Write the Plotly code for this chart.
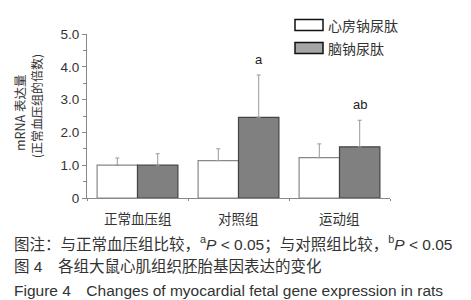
import plotly.graph_objects as go

categories = ["正常血压组", "对照组", "运动组"]
anp_values = [1.00, 1.14, 1.23]
anp_err = [0.22, 0.36, 0.42]
bnp_values = [1.00, 2.46, 1.56]
bnp_err = [0.35, 1.29, 0.81]
sig_labels = ["", "a", "ab"]
series_names = ["心房钠尿肽", "脑钠尿肽"]
y_ticks = [0, 1, 2, 3, 4, 5]
y_tick_text = ["0", "1.0", "2.0", "3.0", "4.0", "5.0"]

xpos = list(range(len(categories)))
font_cn = "Noto Sans CJK SC"
font_en = "Liberation Sans, Arial"

fig = go.Figure()
fig.add_trace(go.Bar(
    x=xpos, y=anp_values, name=series_names[0],
    marker=dict(color="white", line=dict(color="#888888", width=1.2)),
    error_y=dict(type="data", array=anp_err, arrayminus=[0]*3, symmetric=False,
                 color="#999999", thickness=1, width=2),
    showlegend=False,
))
fig.add_trace(go.Bar(
    x=xpos, y=bnp_values, name=series_names[1],
    marker=dict(color="#808080", line=dict(color="#444444", width=1.2)),
    error_y=dict(type="data", array=bnp_err, arrayminus=[0]*3, symmetric=False,
                 color="#999999", thickness=1, width=2),
    showlegend=False,
))

annotations = []
for i, lab in enumerate(sig_labels):
    if lab:
        annotations.append(dict(x=i + 0.2, y=bnp_values[i] + bnp_err[i], xref="x", yref="y",
                                text=lab, showarrow=False, yanchor="bottom", yshift=6,
                                font=dict(family=font_en, size=13, color="#222222")))
for i, c in enumerate(categories):
    annotations.append(dict(x=i, y=0, xref="x", yref="y", text=c, showarrow=False,
                            yanchor="top", yshift=-8,
                            font=dict(family=font_cn, size=13.5, color="#333333")))

# y axis title (two lines)
annotations.append(dict(x=11, y=105, xref="paper", yref="paper", text="mRNA 表达量",
                        showarrow=False, textangle=-90, xanchor="center", yanchor="middle",
                        font=dict(family=font_cn, size=12.5, color="#333333")))
annotations.append(dict(x=29, y=98, xref="paper", yref="paper", text="(正常血压组的倍数)",
                        showarrow=False, textangle=-90, xanchor="center", yanchor="middle",
                        font=dict(family=font_cn, size=12, color="#333333")))

fig.update_layout(
    width=471, height=300,
    margin=dict(l=79, r=89, t=26, b=110),
    paper_bgcolor="white", plot_bgcolor="white",
    barmode="group", bargap=0.2, bargroupgap=0,
    xaxis=dict(range=[-0.5, 2.5], tickvals=[-0.5, 0.5, 1.5, 2.5], showticklabels=False,
               ticks="outside", ticklen=2, tickcolor="#888888", showline=True,
               linecolor="#888888", linewidth=1, showgrid=False, zeroline=False, fixedrange=True),
    yaxis=dict(range=[0, 5], tickvals=y_ticks, ticktext=y_tick_text, ticks="outside",
               ticklen=4, tickcolor="#888888", showline=True, linecolor="#888888", linewidth=1,
               showgrid=False, zeroline=False,
               minor=dict(tickvals=[0.5, 1.5, 2.5, 3.5, 4.5], ticks="outside", ticklen=3,
                          tickcolor="#888888"),
               tickfont=dict(family=font_en, size=13.5, color="#333333")),
    font=dict(family=font_cn),
)

W, H = 471, 300
pl, pr, pt, pb = 79, 89, 26, 110
pw, ph = W - pl - pr, H - pt - pb
def px(xp):
    return (xp - pl) / pw
def py(yp):
    return (H - pb - yp) / ph

for a in annotations:
    if a.get("xref") == "paper":
        a["x"] = px(a["x"])
        a["y"] = py(a["y"])

# legend (boxes + text)
shapes = []
legend_fills = ["white", "#a6a6a6"]
legend_y = [17, 40]
for fill, yc, name in zip(legend_fills, legend_y, series_names):
    shapes.append(dict(type="rect", xref="paper", yref="paper",
                       x0=px(287), x1=px(315), y0=py(yc + 5.5), y1=py(yc - 5.5),
                       fillcolor=fill, line=dict(color="#111111", width=1.5)))
    annotations.append(dict(x=px(318), y=py(yc), xref="paper", yref="paper", text=name,
                            showarrow=False, xanchor="left", yanchor="middle",
                            font=dict(family=font_cn, size=14, color="#333333")))

# captions
captions = [
    ("图注：与正常血压组比较，<sup>a</sup><i>P</i> < 0.05；与对照组比较，<sup>b</sup><i>P</i> < 0.05", 235),
    ("图 4　各组大鼠心肌组织胚胎基因表达的变化", 258),
    ("Figure 4　Changes of myocardial fetal gene expression in rats", 282),
]
for txt, yc in captions:
    annotations.append(dict(x=px(4), y=py(yc), xref="paper", yref="paper", text=txt,
                            showarrow=False, xanchor="left", yanchor="middle",
                            font=dict(family="Liberation Sans, Noto Sans CJK SC", size=15.5,
                                      color="#333333")))

fig.update_layout(annotations=annotations, shapes=shapes)
fig.write_html("out.html")
